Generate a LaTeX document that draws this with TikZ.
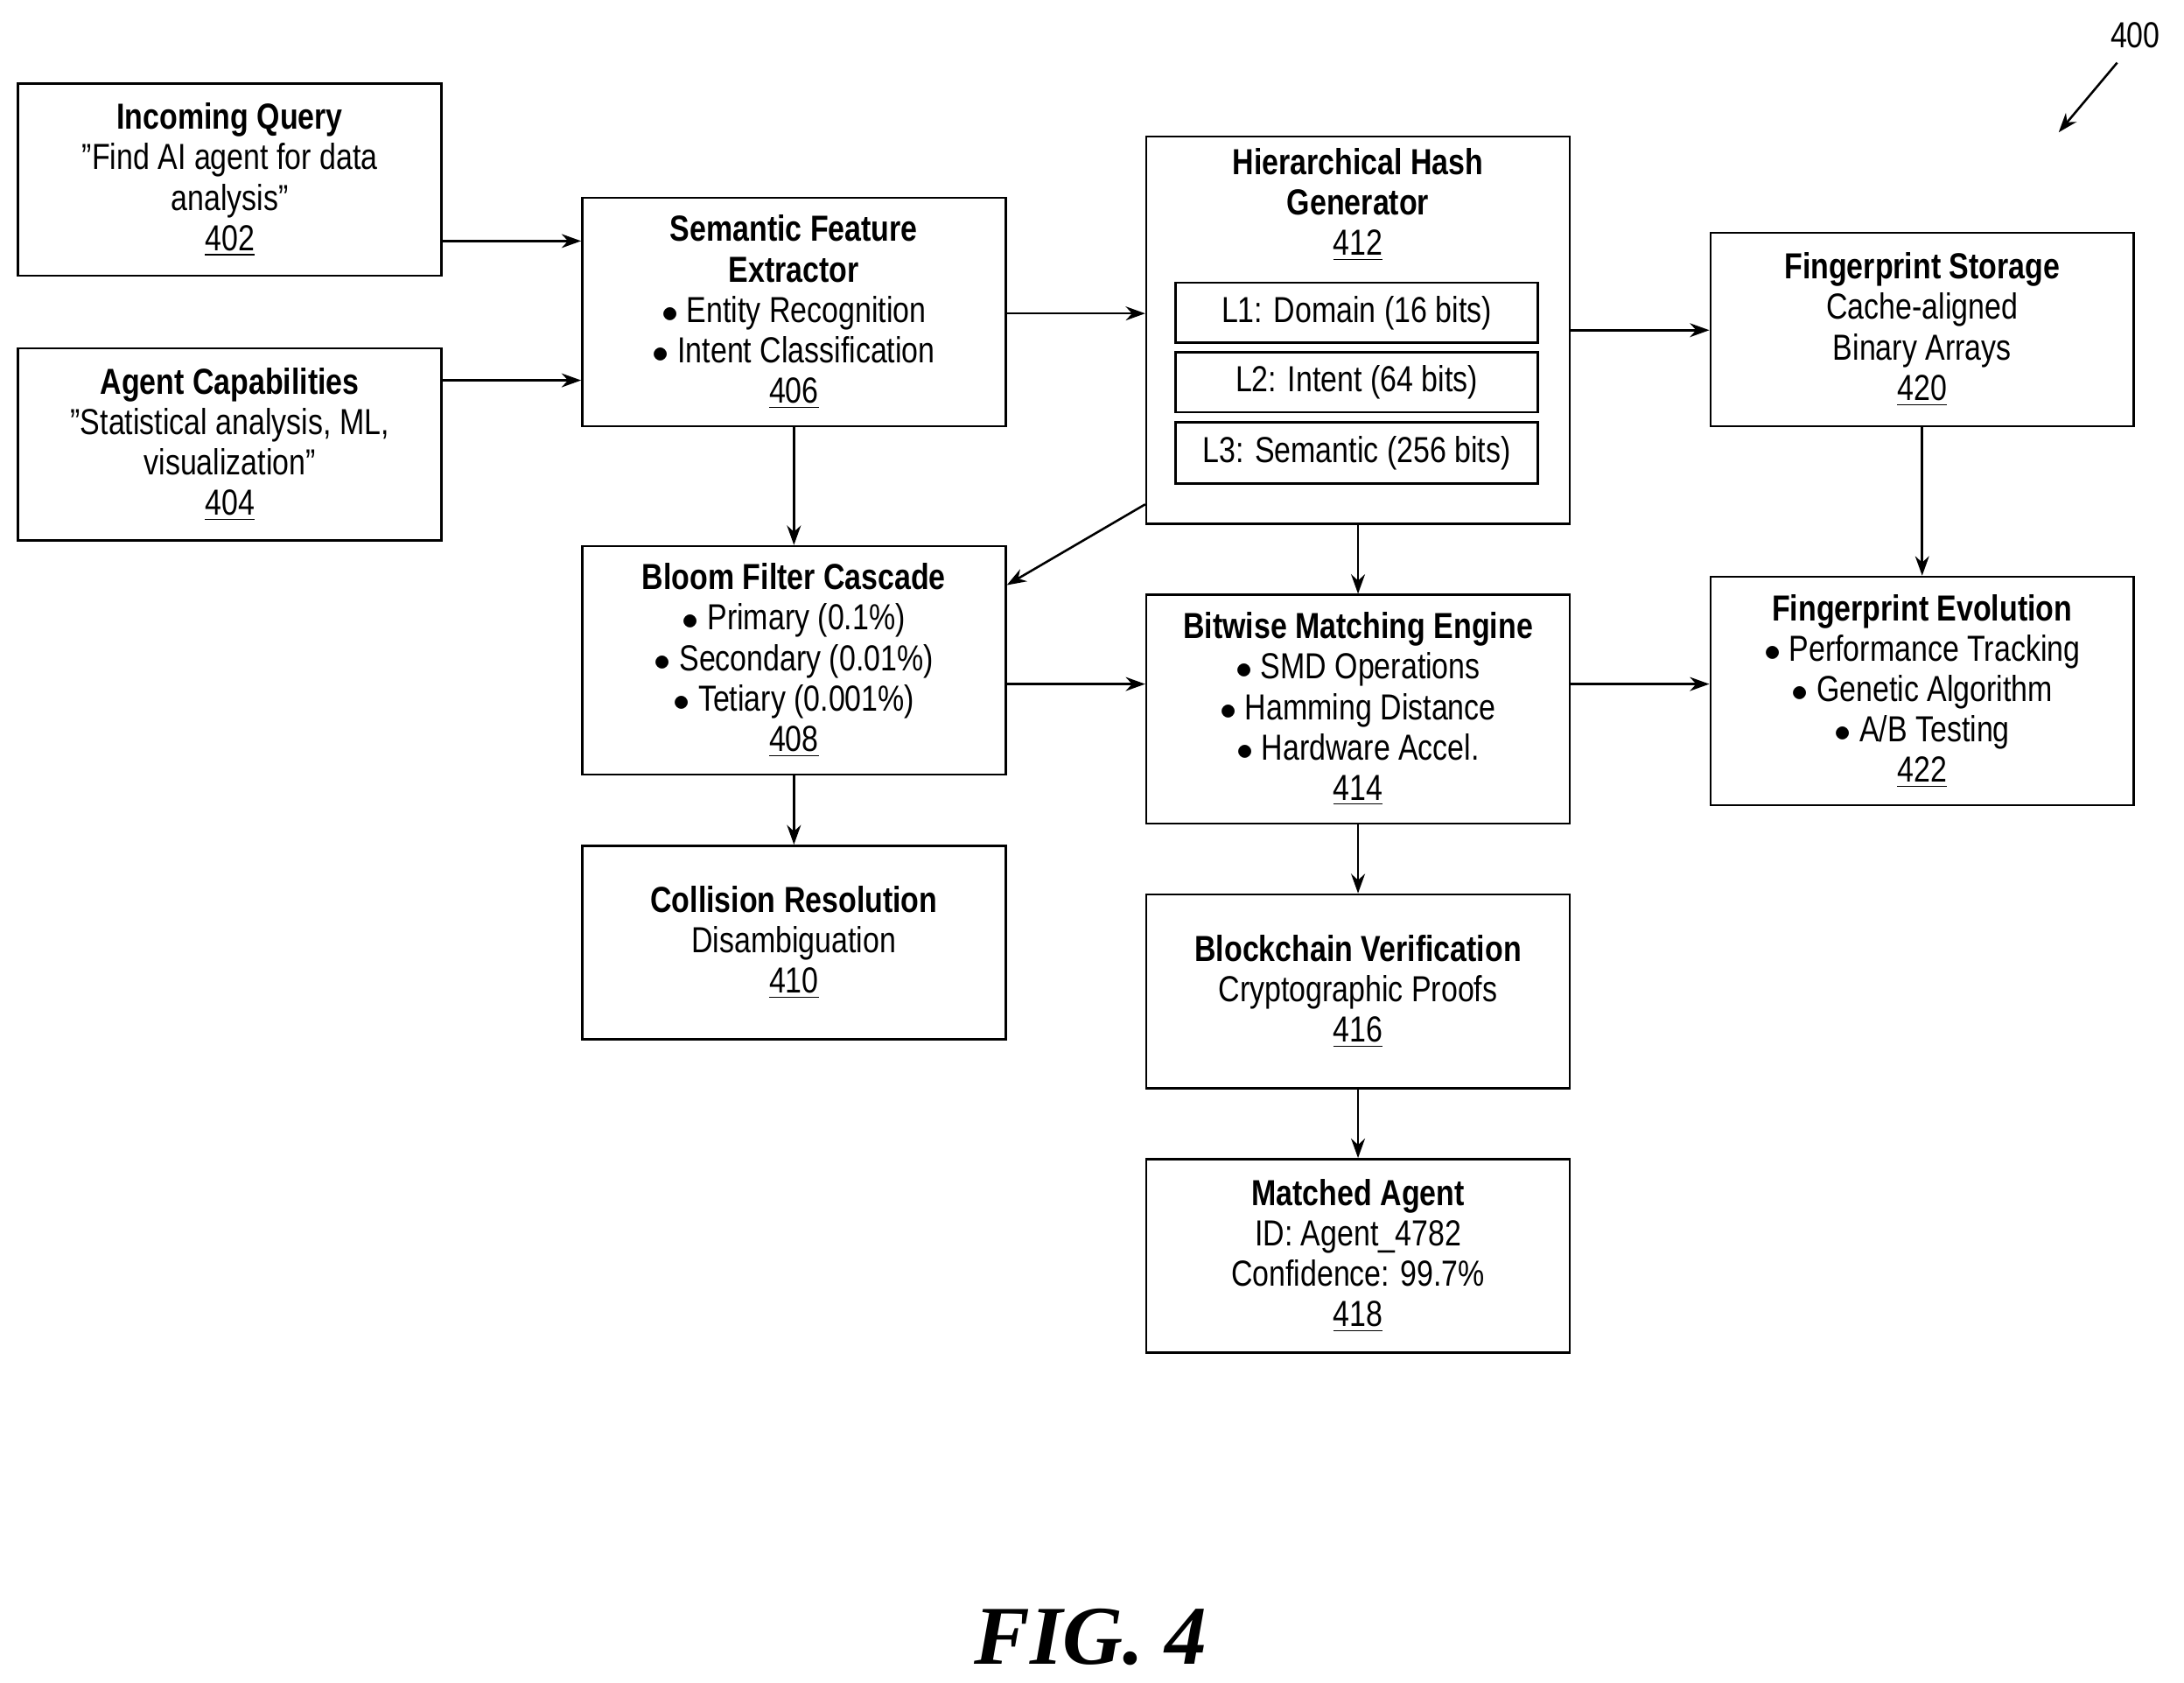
\documentclass[tikz,border=0pt]{standalone}
\usepackage{fontspec}
\setmainfont{Liberation Sans}[FakeStretch=0.82]
\newfontfamily\figfont{Liberation Serif}
\usetikzlibrary{arrows.meta}
\newcommand{\refnum}[1]{\underline{#1}}
\begin{document}
\begin{tikzpicture}[x=0.5pt,y=-0.5pt,
  box/.style={draw,line width=0.8pt,align=center,font=\fontsize{13}{14.5}\selectfont,inner sep=0pt},
  arr/.style={line width=0.8pt,-{Stealth[length=7pt,width=5pt]}}]
\useasboundingbox (0,0) rectangle (1568,1208);
\newcommand{\bx}[6]{\node[box,minimum width={(#4-#2)*0.5pt},minimum height={(#5-#3)*0.5pt}] (#1) at ({(#2+#4)/2},{(#3+#5)/2}) {#6};}
\bx{n402}{13}{60}{317}{198}{\textbf{Incoming Query}\\"Find AI agent for data\\analysis"\\\refnum{402}}
\bx{n404}{13}{250}{317}{388}{\textbf{Agent Capabilities}\\"Statistical analysis, ML,\\visualization"\\\refnum{404}}
\bx{n406}{418}{142}{722}{306}{\textbf{Semantic Feature}\\\textbf{Extractor}\\$\bullet$ Entity Recognition\\$\bullet$ Intent Classification\\\refnum{406}}
\bx{n408}{418}{392}{722}{556}{\textbf{Bloom Filter Cascade}\\$\bullet$ Primary (0.1\%)\\$\bullet$ Secondary (0.01\%)\\$\bullet$ Tetiary (0.001\%)\\\refnum{408}}
\bx{n410}{418}{607}{722}{746}{\textbf{Collision Resolution}\\Disambiguation\\\refnum{410}}
\node[draw,line width=0.8pt,minimum width=152pt,minimum height=139pt] (n412) at (975,237) {};
\node[align=center,font=\fontsize{13}{14.5}\selectfont,anchor=north,inner sep=0pt] (t412) at (975,106) {\textbf{Hierarchical Hash}\\\textbf{Generator}\\\refnum{412}};
\bx{l1}{844}{203}{1104}{246}{L1: Domain (16 bits)}
\bx{l2}{844}{253}{1104}{296}{L2: Intent (64 bits)}
\bx{l3}{844}{303}{1104}{347}{L3: Semantic (256 bits)}
\bx{n414}{823}{427}{1127}{591}{\textbf{Bitwise Matching Engine}\\$\bullet$ SMD Operations\\$\bullet$ Hamming Distance\\$\bullet$ Hardware Accel.\\\refnum{414}}
\bx{n416}{823}{642}{1127}{781}{\textbf{Blockchain Verification}\\Cryptographic Proofs\\\refnum{416}}
\bx{n418}{823}{832}{1127}{971}{\textbf{Matched Agent}\\ID: Agent\_4782\\Confidence: 99.7\%\\\refnum{418}}
\bx{n420}{1228}{167}{1532}{306}{\textbf{Fingerprint Storage}\\Cache-aligned\\Binary Arrays\\\refnum{420}}
\bx{n422}{1228}{414}{1532}{578}{\textbf{Fingerprint Evolution}\\$\bullet$ Performance Tracking\\$\bullet$ Genetic Algorithm\\$\bullet$ A/B Testing\\\refnum{422}}
\node[font=\fontsize{13}{14}\selectfont] (n400) at (1533,25) {400};
\coordinate (p400) at (1520,45);
\draw[arr] (p400) -- (1478,95);
\draw[arr] (n402.east |- 0,173) -- (n406.west |- 0,173);
\draw[arr] (n404.east |- 0,273) -- (n406.west |- 0,273);
\draw[arr] (n406.east |- 0,225) -- (n412.west |- 0,225);
\draw[arr] (n406) -- (n408) ;
\draw[arr] (n412.west |- 0,362) -- (n408.east |- 0,420);
\draw[arr] (n412) -- (n414);
\draw[arr] (n408.east |- 0,491) -- (n414.west |- 0,491);
\draw[arr] (n412.east |- 0,237) -- (n420.west |- 0,237);
\draw[arr] (n420) -- (n422);
\draw[arr] (n414.east |- 0,491) -- (n422.west |- 0,491);
\draw[arr] (n408) -- (n410);
\draw[arr] (n414) -- (n416);
\draw[arr] (n416) -- (n418);
\node[font=\figfont\bfseries\itshape\fontsize{30}{32}\selectfont] (fig) at (783,1175) {FIG. 4};
\end{tikzpicture}
\end{document}
